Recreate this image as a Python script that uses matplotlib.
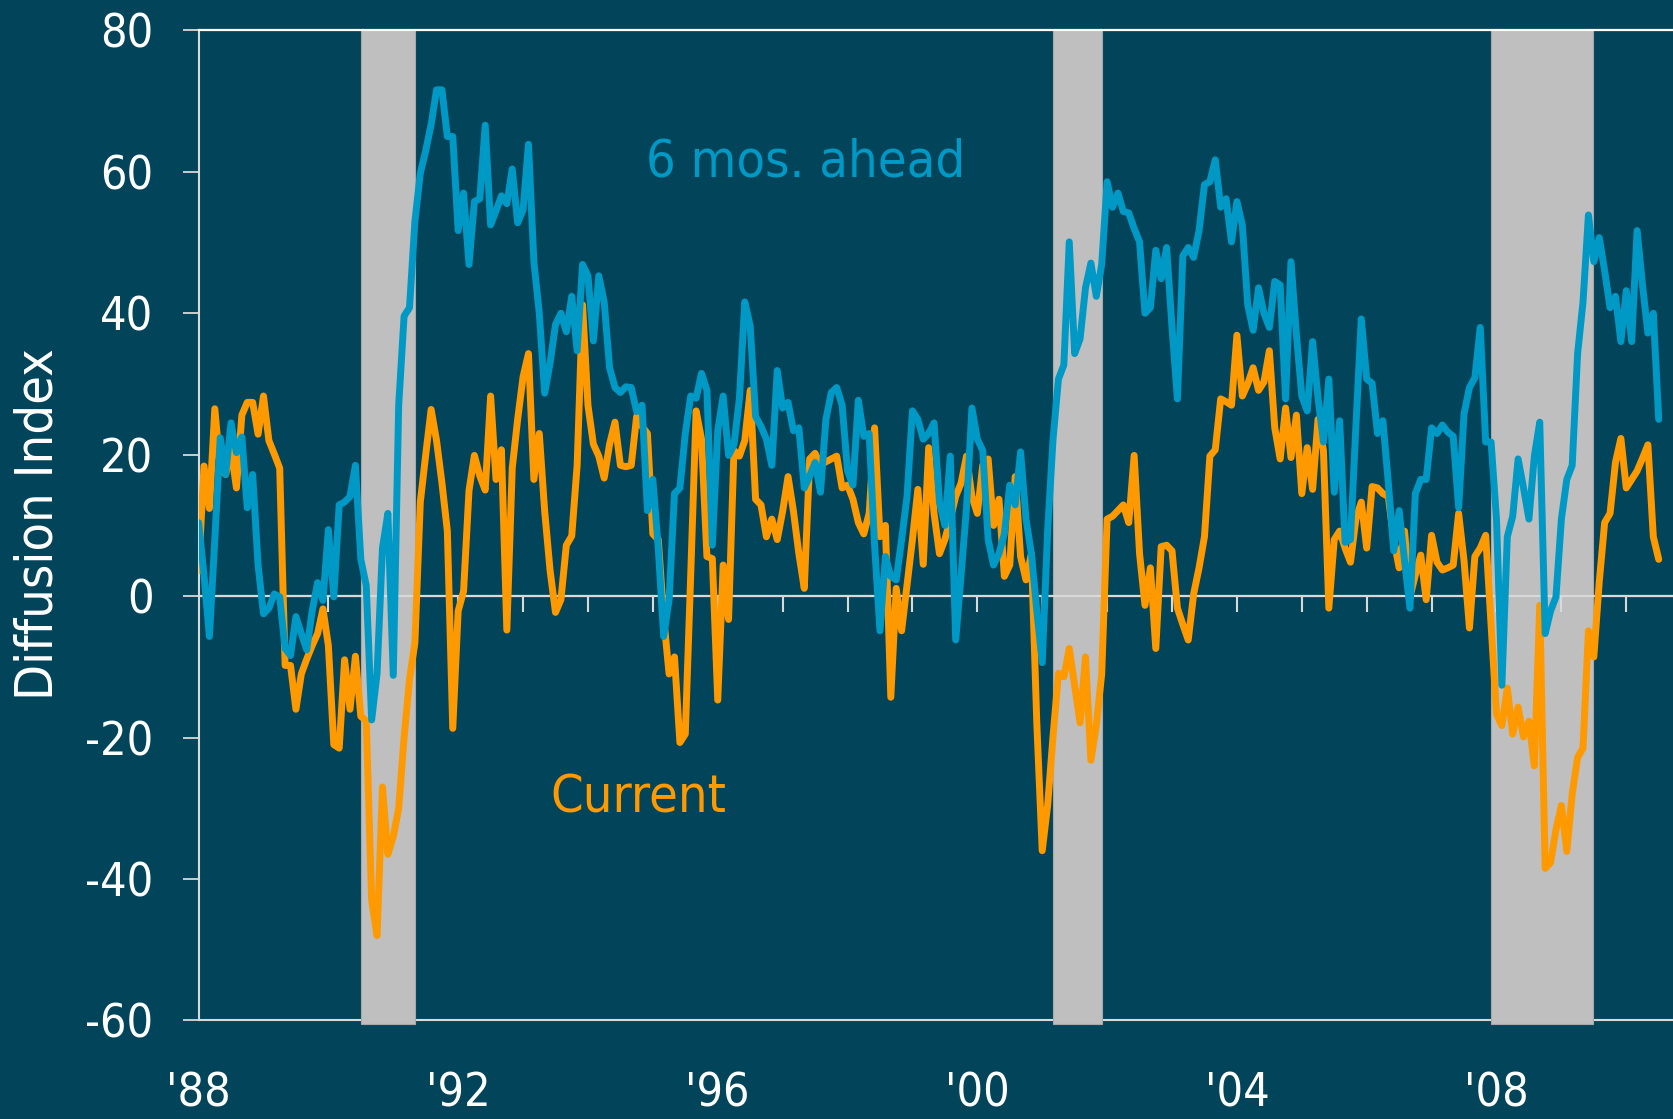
import matplotlib
matplotlib.use('Agg')
import matplotlib.pyplot as plt
import numpy as np
from matplotlib import font_manager

# ---------------- data (monthly, Jan 1988 - Jul 2010) ----------------
start_year = 1988

current = [
    3.6, 18.4, 12.4, 26.5, 18, 17.2, 20.7, 15.3, 25.6, 27.4, 27.4, 22.9,          # 1988
    28.3, 22, 20.1, 18.1, -9.8, -9.8, -16, -11, -8.9, -7, -5.3, -1.8,             # 1989
    -7, -21, -21.5, -9, -16, -8.5, -17, -17.6, -43, -48, -27, -36.5,              # 1990
    -34, -30, -20, -11.8, -6.6, 13.3, 20, 26.4, 22, 16, 9.2, -18.7,               # 1991
    -2.1, 0.7, 14.9, 19.9, 17, 15, 28.3, 16.5, 20.7, -4.8, 18.1, 25,              # 1992
    31, 34.3, 16.5, 23, 12, 3.6, -2.3, -0.5, 7.2, 8.5, 18.5, 41.2,                # 1993
    27, 21.5, 19.8, 16.7, 21.5, 24.6, 18.5, 18.3, 18.5, 25.4, 24, 23,             # 1994
    8.8, 8, -3, -11, -8.6, -20.7, -19.5, 3, 26.2, 22.2, 5.6, 5.3,                 # 1995
    -14.7, 4.4, -3.3, 20.6, 19.8, 22, 29.1, 13.7, 12.9, 8.4, 10.9, 8,             # 1996
    12, 16.9, 12, 6, 1.1, 19.4, 20.2, 18.5, 19, 19.4, 19.8, 15.3,                 # 1997
    15.7, 13.7, 10.4, 8.8, 11.7, 23.8, 8.4, 10, -14.3, 1.1, -4.9, 1.5,            # 1998
    8, 15.1, 4.5, 21, 11.7, 6, 8, 10.9, 14.1, 16, 19.8, 14.1,                     # 1999
    11.7, 18.5, 19.4, 10, 13.7, 2.8, 4.4, 16.9, 5.6, 2.3, 6, -18,                 # 2000
    -36, -29.6, -19.8, -10.9, -11.4, -7.4, -12.6, -17.9, -8.6, -23.2, -18.3, -11, # 2001
    10.9, 11.3, 12.1, 12.9, 10.4, 19.9, 6, -1.3, 4, -7.4, 7, 7.2,                 # 2002
    6.4, -1.7, -4, -6.2, 0.3, 4, 8.4, 19.8, 20.7, 27.9, 27.5, 27,                 # 2003
    36.9, 28.3, 30, 32.3, 29.1, 30.3, 34.7, 23.8, 19.4, 26.6, 19.6, 25.6,         # 2004
    14.5, 21, 15.1, 25, 20.6, -1.7, 8, 9.2, 6.8, 4.8, 10.9, 13.3,                 # 2005
    6.8, 15.5, 15.3, 14.5, 14.1, 8, 4, 9.2, -0.1, 3, 5.8, -0.5,                   # 2006
    8.6, 4.8, 3.7, 4, 4.4, 11.7, 5, -4.5, 5.6, 6.8, 8.6, -4,                      # 2007
    -16.7, -18.3, -13, -19.5, -15.7, -19.9, -17.7, -24, -1.3, -38.5, -37.7, -33,  # 2008
    -29.6, -36.1, -28, -22.8, -21.5, -4.9, -8.6, 2, 10.4, 11.7, 18.9, 22.3,       # 2009
    15.3, 16.5, 17.7, 19.5, 21.4, 8.4, 5.2,                                       # 2010
]

ahead = [
    10.4, 3, -5.7, 8, 22.4, 17.2, 24.5, 20.3, 22.5, 12.5, 17.2, 4.4,              # 1988
    -2.5, -1.7, 0.3, -0.1, -7.4, -8.4, -2.9, -5.3, -7.6, -2.1, 1.9, -0.6,         # 1989
    9.4, -0.1, 12.9, 13.3, 14.1, 18.5, 5.2, 1.5, -17.5, -11, 6.8, 11.7,           # 1990
    -11.2, 27, 39.6, 40.8, 53, 59.8, 63, 66.7, 71.6, 71.6, 65, 65,                # 1991
    51.7, 57, 46.9, 55.8, 56.2, 66.6, 52.5, 54.5, 56.6, 55.5, 60.4, 52.8,         # 1992
    54.6, 63.9, 47.3, 40, 28.7, 33, 38.4, 40, 37.4, 42.4, 34.7, 46.9,             # 1993
    45.3, 36.1, 45.3, 41.6, 32.3, 29.5, 28.8, 29.6, 29.5, 26.1, 27, 12.1,         # 1994
    16.5, 6.8, -5.7, -0.5, 14.5, 15.3, 23, 28.3, 28, 31.5, 29.1, 7.2,             # 1995
    23.4, 28.3, 19.9, 21.4, 27.9, 41.6, 38.2, 25.4, 24, 22.2, 18.5, 31.9,         # 1996
    26.6, 27.4, 23.4, 23.8, 15.3, 17, 18.9, 14.7, 25, 28.8, 29.5, 27,             # 1997
    17.7, 15.7, 27.7, 22.6, 23, 7.2, -4.9, 5.6, 2.8, 2.3, 8, 14.1,                # 1998
    26.2, 25, 22.2, 23, 24.5, 13.3, 10, 19.8, -6.2, 3, 12.5, 26.6,                # 1999
    22.2, 20.6, 8, 4.4, 6, 8.8, 15.7, 12.9, 20.4, 10.9, 6, -2.1,                  # 2000
    -9.4, 9.2, 22.2, 30.7, 32.7, 50.1, 34.3, 36.4, 43.6, 47.1, 42.4, 46.9,        # 2001
    58.6, 55, 57, 54.4, 54.2, 52, 50.1, 40, 40.8, 48.9, 44.9, 49.3,               # 2002
    38, 27.9, 48.1, 49.3, 47.9, 51.7, 58.2, 58.6, 61.7, 55, 56.2, 50.1,           # 2003
    55.8, 52.5, 41.2, 37.6, 43.6, 40, 38, 44.5, 44, 27.9, 47.3, 37,               # 2004
    28.3, 26.2, 36, 28, 21.8, 30.7, 14.7, 24.8, 7.6, 8, 24, 39.2,                 # 2005
    30.7, 30.1, 23, 24.8, 16, 6.4, 12.1, 5, -1.7, 14.5, 16.5, 16.5,               # 2006
    23.8, 23, 24.2, 23.2, 22.6, 12.5, 25.8, 29.5, 30.9, 38, 21.8, 21.8,           # 2007
    10.9, -12.6, 8.4, 11.3, 19.4, 15.3, 10.9, 19.8, 24.6, -5.3, -2.1, -0.1,       # 2008
    10.9, 16.5, 18.5, 34.3, 41.6, 53.9, 47.3, 50.7, 46, 40.8, 42.4, 36,           # 2009
    43.2, 36, 51.7, 44, 37.2, 40, 25,                                             # 2010
]

recessions = [(1990.5, 1991.33), (2001.16, 2001.92), (2007.92, 2009.49)]
xtick_years = [1988, 1992, 1996, 2000, 2004, 2008]
xtick_labels = ["'88", "'92", "'96", "'00", "'04", "'08"]
yticks = [-60, -40, -20, 0, 20, 40, 60, 80]
minor_years = list(range(1989, 2011))

# ---------------- style ----------------
BG = '#02455A'
BLUE = '#0099C6'
ORANGE = '#FF9900'
GRID = '#D9D9D9'
SHADE = '#BFBFBF'

cond = [f for f in font_manager.fontManager.ttflist
        if f.name == 'DejaVu Sans' and 'ondensed' in f.fname
        and 'Bold' not in f.fname and 'Oblique' not in f.fname]
if cond:
    base = dict(fname=cond[0].fname)
    s_tick, s_ylab, s_ann = 33.5, 37.5, 37.5
else:
    base = dict(family='DejaVu Sans')
    s_tick, s_ylab, s_ann = 30.5, 34.0, 33.8


def fp(size):
    return font_manager.FontProperties(size=size, **base)


fig = plt.figure(figsize=(16.73, 11.19), dpi=100, facecolor=BG)
ax = fig.add_axes([0.1187, 0.0881, 1 - 0.1187, 0.9728 - 0.0881])
ax.set_facecolor(BG)
ax.set_xlim(1988, 2010.72)
ax.set_ylim(-60, 80)

# recession shading
for a, b in recessions:
    ax.axvspan(a, b, ymin=-0.004, ymax=1.0, facecolor=SHADE, edgecolor='#A8A8A8',
               lw=0.8, zorder=1, clip_on=False)

# zero line with yearly ticks
ax.axhline(0, color=GRID, lw=1.6, zorder=2)
ax.vlines(minor_years, -2.26, 0, colors=GRID, lw=1.5, zorder=2)

xc = start_year + np.arange(len(current)) / 12.0
xa = start_year + np.arange(len(ahead)) / 12.0
ax.plot(xc, current, color=ORANGE, lw=5.0, solid_joinstyle='round',
        solid_capstyle='round', zorder=3)
ax.plot(xa, ahead, color=BLUE, lw=5.0, solid_joinstyle='round',
        solid_capstyle='round', zorder=4)

# spines
ax.spines['right'].set_visible(False)
ax.spines['left'].set_color(GRID)
ax.spines['left'].set_linewidth(1.5)
ax.spines['bottom'].set_color(GRID)
ax.spines['bottom'].set_linewidth(1.5)
ax.spines['bottom'].set_zorder(0.5)
ax.spines['top'].set_color('white')
ax.spines['top'].set_linewidth(1.6)
ax.spines['top'].set_zorder(5)

ax.set_yticks(yticks)
ax.set_yticklabels([str(v) for v in yticks])
ax.tick_params(axis='y', direction='out', length=11.5, width=1.3, color=GRID,
               pad=21, labelcolor='white')
ax.set_xticks(xtick_years)
ax.set_xticklabels(xtick_labels)
ax.tick_params(axis='x', length=0, pad=37, labelcolor='white')
for lbl in ax.get_yticklabels() + ax.get_xticklabels():
    lbl.set_fontproperties(fp(s_tick))

fig.text(38.5 / 1673, 0.5314, 'Diffusion Index', rotation=90, color='white',
         ha='center', va='center', fontproperties=fp(s_ylab))

ax.text(1997.36, 59.4, '6 mos. ahead', color=BLUE, ha='center', va='baseline',
        fontproperties=fp(s_ann), zorder=6)
ax.text(1994.78, -30.6, 'Current', color=ORANGE, ha='center', va='baseline',
        fontproperties=fp(s_ann), zorder=6)

fig.savefig('out.png', dpi=100, facecolor=BG)
